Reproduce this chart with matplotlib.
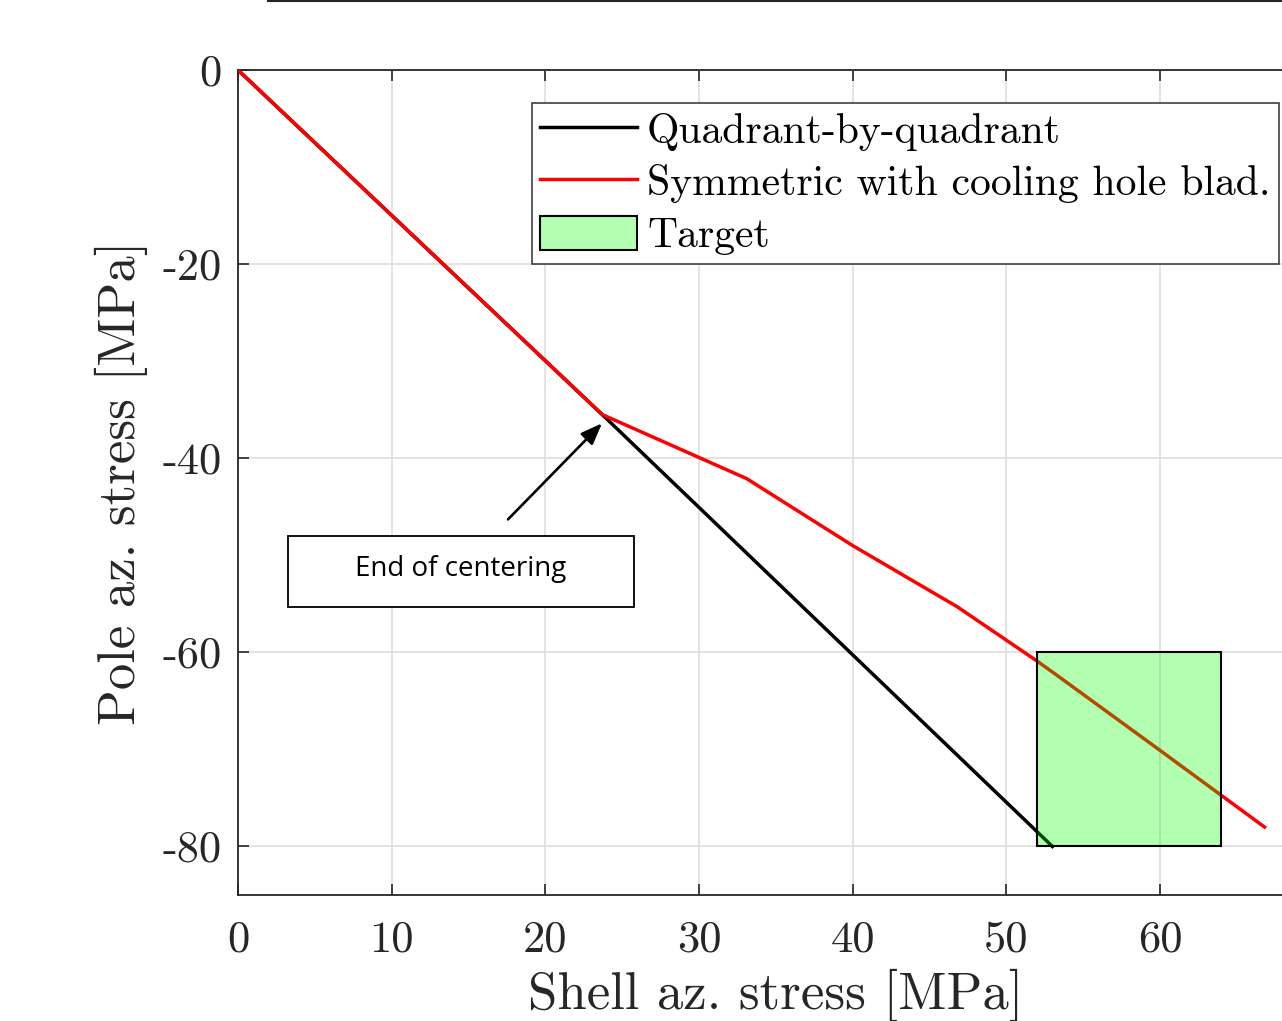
import matplotlib
matplotlib.use("Agg")
import matplotlib.pyplot as plt
from matplotlib.patches import Rectangle
from matplotlib.lines import Line2D

# Data
quad_x = [0, 23.7, 53.0]
quad_y = [0, -35.5, -80.0]

sym_x = [0, 23.7, 33.1, 40.0, 46.8, 52.0, 53.5, 60.0, 66.8]
sym_y = [0, -35.5, -42.1, -49.0, -55.3, -60.9, -62.6, -70.1, -78.0]

target_x = [52, 64]
target_y = [-80, -60]

x_ticks = [0, 10, 20, 30, 40, 50, 60]
y_ticks = [0, -20, -40, -60, -80]

plt.rcParams['font.family'] = 'cmr10'
plt.rcParams['axes.formatter.use_mathtext'] = True

W, H = 1282, 1021
fig = plt.figure(figsize=(W / 100, H / 100), dpi=100)
# axes run past the right edge of the image, as in the reference
ax = fig.add_axes([238 / W, 1 - 895 / H, 70 * 15.367 / W, 825 / H])

ax.plot(quad_x, quad_y, color='black', lw=2.5, label='Quadrant-by-quadrant', zorder=3)
ax.plot(sym_x, sym_y, color='red', lw=2.5, label='Symmetric with cooling hole blad.', zorder=3)
box = Rectangle((target_x[0], target_y[0]), target_x[1] - target_x[0], target_y[1] - target_y[0],
                facecolor=(0, 1, 0, 0.3), edgecolor='black', lw=1.5, label='Target', zorder=4)
ax.add_patch(box)

ax.set_xlim(0, 70)
ax.set_ylim(-85, 0)
ax.set_xticks(x_ticks)
ax.set_xticklabels([str(v) for v in x_ticks])
ax.set_yticks(y_ticks)
ax.set_yticklabels([str(v) for v in y_ticks])
ax.tick_params(direction='in', length=8, width=1.2, labelsize=32, top=True, right=True,
               colors='#262626', labelcolor='#262626')
ax.tick_params(axis='x', pad=18)
ax.tick_params(axis='y', pad=12)
ax.grid(True, color='#dedede', lw=1.2, zorder=0)
ax.set_axisbelow(True)
for s in ax.spines.values():
    s.set_color('#262626')
    s.set_linewidth(1.3)

ax.set_xlabel('Shell az. stress [MPa]', fontsize=38, labelpad=6, color='#262626')
ax.set_ylabel('Pole az. stress [MPa]', fontsize=38, labelpad=10, color='#262626')

leg = ax.legend(loc='upper left', bbox_to_anchor=(0.273, 0.96), fontsize=30,
                fancybox=False, edgecolor='#404040', framealpha=1, handlelength=2.33,
                handleheight=0.9, handletextpad=0.24, borderpad=0.2, labelspacing=0.3,
                borderaxespad=0)
leg.get_frame().set_linewidth(1.2)

# annotation box and arrow
ax.add_patch(Rectangle((3.25, -55.3), 22.5, 7.3, facecolor='white', edgecolor='black', lw=1.3, zorder=5))
ax.text(14.5, -51.4, 'End of centering', family='Open Sans', fontsize=20, ha='center', va='center', zorder=6)
ax.annotate('', xy=(23.69, -36.4), xytext=(17.57, -46.3),
            arrowprops=dict(arrowstyle='-|>,head_length=1.3,head_width=0.5', color='black', lw=1.9,
                            shrinkA=0, shrinkB=0), zorder=6)

# stray rule at the very top of the image
fig.add_artist(Line2D([268 / W, 1], [1 - 1 / H, 1 - 1 / H], color='#262626', lw=1.5))

fig.savefig('out.png', dpi=100)
